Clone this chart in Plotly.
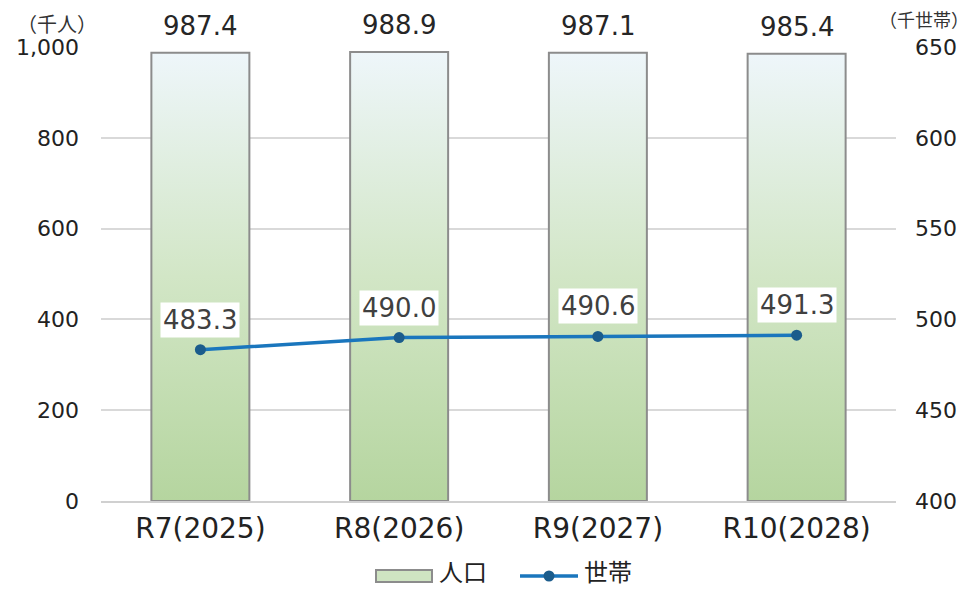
import plotly.graph_objects as go

categories = ["R7(2025)", "R8(2026)", "R9(2027)", "R10(2028)"]
population = [987.4, 988.9, 987.1, 985.4]
households = [483.3, 490.0, 490.6, 491.3]
left_ticks = [0, 200, 400, 600, 800, 1000]
left_tick_labels = ["0", "200", "400", "600", "800", "1,000"]
right_ticks = [400, 450, 500, 550, 600, 650]
series_names = ["人口", "世帯"]

FONT = "DejaVu Sans, Noto Sans CJK JP"
BAR_W = 0.493
OFF = 8  # page body margin
W, H = 964, 582
ML, MR, MT, MB = 93, 76, 39, 89
PW, PH = W - ML - MR, H - MT - MB


def px(x):
    return (x - OFF - ML) / PW


def py(y):
    return (H - MB - (y - OFF)) / PH


GRAD = [[0, "#b5d59f"], [0.5, "#d2e6c6"], [1, "#eef6fa"]]

fig = go.Figure()

# gradient bars
for i, v in enumerate(population):
    xs = [i - BAR_W / 2, i + BAR_W / 2, i + BAR_W / 2, i - BAR_W / 2, i - BAR_W / 2]
    ys = [0, 0, v, v, 0]
    fig.add_trace(go.Scatter(
        x=xs, y=ys, mode="lines", fill="toself",
        line=dict(color="#8c8c8c", width=2),
        fillgradient=dict(type="vertical", colorscale=GRAD),
        showlegend=False, hoverinfo="skip", name=series_names[0],
    ))

for i, v in enumerate(population):
    fig.add_annotation(x=i, y=v, xref="x", yref="y", text=f"{v:.1f}",
                       showarrow=False, yshift=27, yanchor="middle",
                       font=dict(size=26, color="#262626", family=FONT))

fig.add_trace(go.Scatter(
    x=list(range(len(categories))), y=households, name=series_names[1], yaxis="y2",
    mode="lines+markers",
    line=dict(color="#1a76bd", width=3.5),
    marker=dict(color="#1b5c8c", size=11),
    showlegend=False,
))

for i, v in enumerate(households):
    fig.add_annotation(x=i, y=v, xref="x", yref="y2", text=f"{v:.1f}",
                       showarrow=False, yshift=30, yanchor="middle", bgcolor="white",
                       font=dict(size=26, color="#404040", family=FONT),
                       borderpad=2)

# axis unit titles
fig.add_annotation(text="（千人）", xref="paper", yref="paper", x=px(57), y=py(25),
                   xanchor="center", yanchor="middle", showarrow=False,
                   font=dict(size=20, color="#333", family=FONT))
fig.add_annotation(text="（千世帯）", xref="paper", yref="paper", x=px(971), y=py(20),
                   xanchor="right", yanchor="middle", showarrow=False,
                   font=dict(size=18, color="#333", family=FONT))

# custom legend
shapes = [
    dict(type="rect", xref="paper", yref="paper", x0=px(376), x1=px(432),
         y0=py(582), y1=py(570), line=dict(color="#8c8c8c", width=2),
         fillcolor="#cfe4c2"),
    dict(type="line", xref="paper", yref="paper", x0=px(520), x1=px(578),
         y0=py(576), y1=py(576), line=dict(color="#1a76bd", width=3.5)),
    dict(type="circle", xref="paper", yref="paper", x0=px(543.5), x1=px(554.5),
         y0=py(581.5), y1=py(570.5), line=dict(color="#1b5c8c", width=0),
         fillcolor="#1b5c8c"),
]
fig.add_annotation(text=series_names[0], xref="paper", yref="paper", x=px(437), y=py(573),
                   xanchor="left", yanchor="middle", showarrow=False,
                   font=dict(size=24, color="#222", family=FONT))
fig.add_annotation(text=series_names[1], xref="paper", yref="paper", x=px(582), y=py(573),
                   xanchor="left", yanchor="middle", showarrow=False,
                   font=dict(size=24, color="#222", family=FONT))

fig.update_layout(
    width=W, height=H,
    margin=dict(l=ML, r=MR, t=MT, b=MB, autoexpand=False),
    paper_bgcolor="white", plot_bgcolor="white",
    font=dict(family=FONT, color="#222"),
    shapes=shapes,
    xaxis=dict(tickmode="array", tickvals=list(range(len(categories))), ticktext=categories,
               range=[-0.5, len(categories) - 0.5], showgrid=False, zeroline=False,
               showline=True, linecolor="#d0d0d0", linewidth=2,
               tickfont=dict(size=28, color="#222", family=FONT), ticks="",
               ticklabelstandoff=1, automargin=False),
    yaxis=dict(range=[0, 1000], tickvals=left_ticks, ticktext=left_tick_labels,
               showgrid=True, gridcolor="#d9d9d9", gridwidth=1.5, zeroline=False,
               tickfont=dict(size=22, color="#222", family=FONT), ticks="",
               ticklabelstandoff=21, automargin=False),
    yaxis2=dict(range=[400, 650], tickvals=right_ticks, overlaying="y", side="right",
                showgrid=False, zeroline=False,
                tickfont=dict(size=22, color="#222", family=FONT), ticks="",
                ticklabelstandoff=18, automargin=False),
    showlegend=False,
)

fig.write_html("out.html")
